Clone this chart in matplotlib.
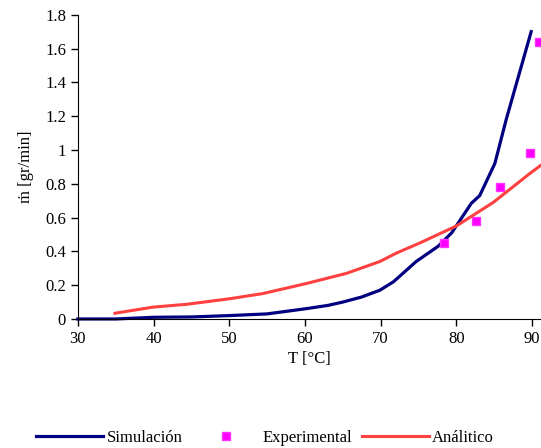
import matplotlib.pyplot as plt

plt.rcParams['font.family'] = ['Liberation Serif', 'DejaVu Serif']
plt.rcParams['font.size'] = 12

# Simulación
t_sim = [30, 35, 40, 45, 50, 55, 60, 63, 65, 67.5, 69.9, 71.7, 74.7, 77.6, 79.4, 82.0, 83.1, 85.1, 86.6, 89.9]
m_sim = [0.0, 0.0, 0.01, 0.012, 0.02, 0.03, 0.06, 0.08, 0.1, 0.13, 0.17, 0.22, 0.34, 0.43, 0.51, 0.685, 0.73, 0.92, 1.18, 1.70]

# Experimental
t_exp = [78.4, 82.6, 85.8, 89.8, 90.9]
m_exp = [0.45, 0.58, 0.78, 0.98, 1.64]

# Analítico
t_an = [34.9, 39.9, 44.4, 50.1, 54.4, 60.2, 65.5, 69.9, 72.1, 75.2, 80.0, 84.9, 89.7, 91.2]
m_an = [0.034, 0.07, 0.087, 0.12, 0.15, 0.21, 0.27, 0.34, 0.39, 0.45, 0.55, 0.69, 0.86, 0.91]

fig = plt.figure(figsize=(5.41, 4.48), dpi=100)
ax = fig.add_axes([0.144, 0.288, 0.856, 0.679])

ax.plot(t_sim, m_sim, color='#000080', lw=2.3, label='Simulación', clip_on=False)
ax.plot(t_exp, m_exp, 's', color='#FF00FF', ms=6, mec='#FF33FF', lw=0,
        label='Experimental', clip_on=False)
ax.plot(t_an, m_an, color='#FF4040', lw=2.2, label='Análitico')

ax.set_xlim(30, 91.2)
ax.set_ylim(0, 1.8)
ax.set_xticks([30, 40, 50, 60, 70, 80, 90])
ax.set_yticks([0, 0.2, 0.4, 0.6, 0.8, 1, 1.2, 1.4, 1.6, 1.8])
ax.set_yticklabels(['0', '0.2', '0.4', '0.6', '0.8', '1', '1.2', '1.4', '1.6', '1.8'])
ax.spines['top'].set_visible(False)
ax.spines['right'].set_visible(False)
ax.tick_params(direction='out', length=5, width=1)
ax.set_xlabel('T [°C]', labelpad=3)
ax.set_ylabel('ṁ [gr/min]', labelpad=8)

fig.legend(loc='center', bbox_to_anchor=(0.49, 0.023), ncol=3, frameon=False,
           handlelength=4, columnspacing=0.6, handletextpad=0.2)

fig.savefig('out.png', dpi=100)
